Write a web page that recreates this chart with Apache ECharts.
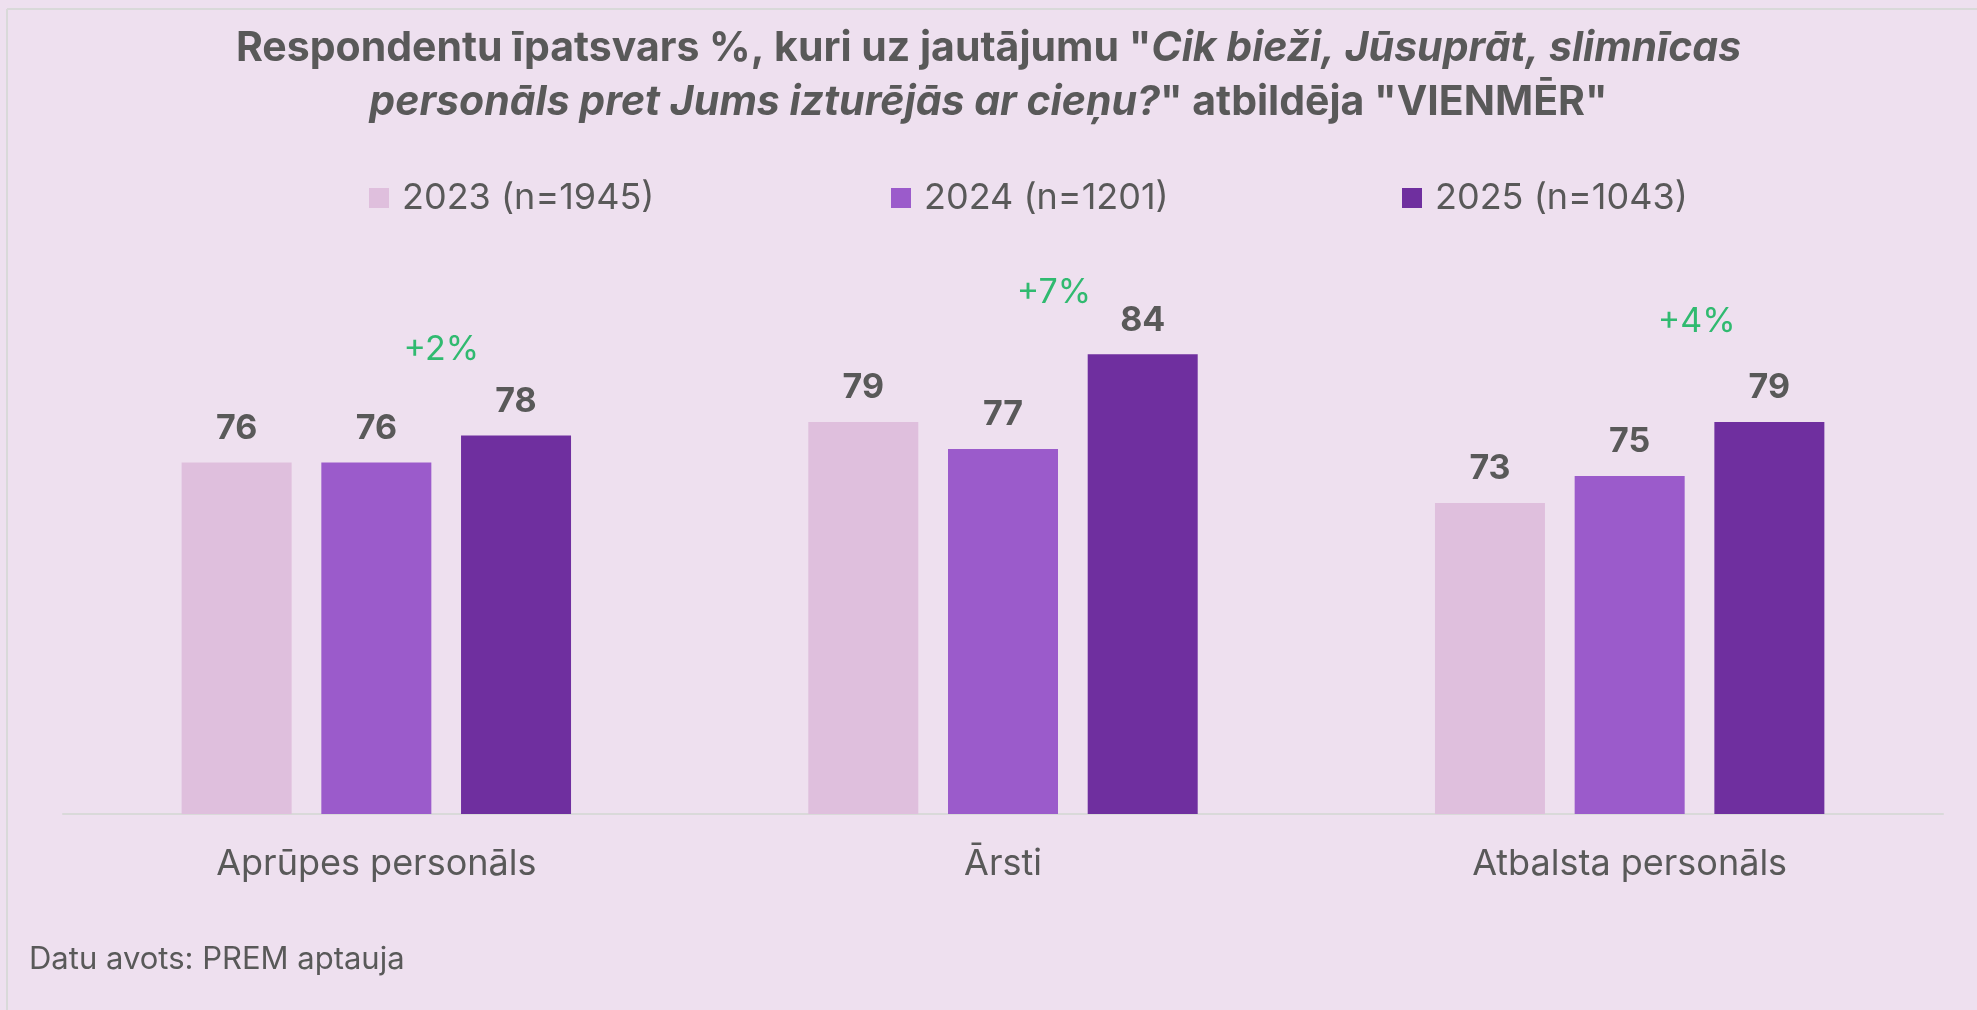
<!DOCTYPE html>
<html>
<head>
<meta charset="utf-8">
<script src="https://cdn.jsdelivr.net/npm/echarts@6/dist/echarts.min.js"></script>
<style>
  html, body { margin: 0; padding: 0; background: #eee0ef; }
  #chart { width: 1977px; height: 1010px; }
</style>
</head>
<body>
<div id="chart"></div>
<script>
// dati
const categories = ["Aprūpes personāls", "Ārsti", "Atbalsta personāls"];
const seriesNames = ["2023 (n=1945)", "2024 (n=1201)", "2025 (n=1043)"];
const values2023 = [76, 79, 73];
const values2024 = [76, 77, 75];
const values2025 = [78, 84, 79];

const colors = ["#dfbfdd", "#9b5bcb", "#6f2f9f"];
const textColor = "#595959";
const font = "Inter, 'Noto Sans', sans-serif";

// izmaiņa pret 2024
const deltas = values2025.map((v, i) => v - values2024[i]);
// anotāciju novietojums (manuāli, kā oriģinālā)
const deltaOffsets = [[65, -86], [51, -62], [67, -100]];

const chart = echarts.init(document.getElementById("chart"));

const barLabel = {
  show: true,
  position: "top",
  distance: 17,
  color: textColor,
  fontFamily: font,
  fontWeight: "bold",
  fontSize: 34
};

function legendAt(name, left) {
  return {
    data: [name],
    left: left,
    top: 175,
    icon: "rect",
    itemWidth: 20,
    itemHeight: 20,
    selectedMode: false,
    textStyle: {
      color: textColor,
      fontFamily: font,
      fontSize: 36,
      padding: [0, 0, 0, 8]
    }
  };
}

chart.setOption({
  backgroundColor: "#eee0ef",
  animation: false,
  title: {
    left: "center",
    top: 17,
    text:
      '{b|Respondentu īpatsvars %, kuri uz jautājumu "}{i|Cik bieži, Jūsuprāt, slimnīcas}\n' +
      '{i|personāls pret Jums izturējās ar cieņu?}{b|" atbildēja "VIENMĒR"}',
    textStyle: {
      rich: {
        b: { fontFamily: font, fontWeight: "bold", fontSize: 41, color: textColor, lineHeight: 54 },
        i: { fontFamily: font, fontWeight: "bold", fontStyle: "italic", fontSize: 41, color: textColor, lineHeight: 54 }
      }
    }
  },
  legend: [
    legendAt(seriesNames[0], 364),
    legendAt(seriesNames[1], 886),
    legendAt(seriesNames[2], 1397)
  ],
  grid: { left: 63, right: 34, top: 138, bottom: 196 },
  xAxis: {
    type: "category",
    data: categories,
    axisLine: { lineStyle: { color: "#d9d9d9", width: 2 } },
    axisTick: { show: false },
    axisLabel: {
      color: textColor,
      fontFamily: font,
      fontSize: 36,
      margin: 32
    }
  },
  yAxis: {
    type: "value",
    min: 50,
    max: 100,
    show: false,
    splitLine: { show: false }
  },
  graphic: [
    { type: "line", shape: { x1: 7, y1: 9, x2: 1977, y2: 9 }, style: { stroke: "#d9d9d9", lineWidth: 2 } },
    { type: "line", shape: { x1: 7, y1: 9, x2: 7, y2: 1010 }, style: { stroke: "#d9d9d9", lineWidth: 2 } },
    {
      type: "text",
      left: 29,
      top: 944,
      style: { text: "Datu avots: PREM aptauja", fill: textColor, font: "31px " + font }
    }
  ],
  series: [
    {
      name: seriesNames[0],
      type: "bar",
      barWidth: 110,
      barGap: "27%",
      itemStyle: { color: colors[0] },
      label: barLabel,
      data: values2023
    },
    {
      name: seriesNames[1],
      type: "bar",
      barWidth: 110,
      barGap: "27%",
      itemStyle: { color: colors[1] },
      label: barLabel,
      data: values2024
    },
    {
      name: seriesNames[2],
      type: "bar",
      barWidth: 110,
      barGap: "27%",
      itemStyle: { color: colors[2] },
      label: barLabel,
      data: values2025
    },
    {
      name: "izmaiņa",
      type: "scatter",
      symbolSize: 0,
      silent: true,
      data: values2025.map((v, i) => ({
        value: v,
        label: {
          show: true,
          position: "inside",
          offset: deltaOffsets[i],
          formatter: "+" + deltas[i] + "%",
          color: "#00b050",
          fontFamily: font,
          fontSize: 34
        }
      }))
    }
  ]
});
</script>
</body>
</html>
